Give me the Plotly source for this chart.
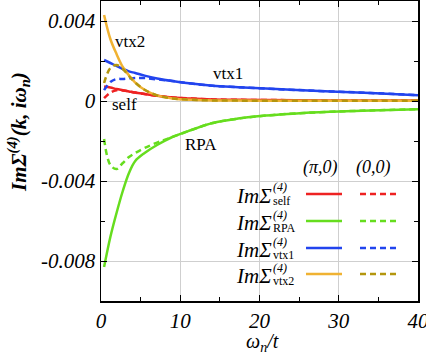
import plotly.graph_objects as go

# Matsubara frequencies (omega_n / t)
omega = [0.39, 1.18, 1.96, 2.75, 3.53, 4.32, 5.5, 7.07, 9.0, 11.4, 14.1, 17.3, 20.8, 24.7, 29.0, 34.0, 40.0]

# (pi,0) solid, (0,0) dashed
self_pi = [0.00072, 0.00067, 0.0006, 0.00054, 0.00048, 0.00042, 0.00035, 0.00026, 0.00018, 0.00012,
           0.00008, 0.00006, 0.00005, 0.00004, 0.00003, 0.00003, 0.00002]
self_00 = [0.00014, 0.00042, 0.00054, 0.00053, 0.00048, 0.00042, 0.00035, 0.00026, 0.00018, 0.00012,
           0.00008, 0.00006, 0.00005, 0.00004, 0.00003, 0.00003, 0.00002]
rpa_pi = [-0.0083, -0.0068, -0.0056, -0.0045, -0.0036, -0.0030, -0.0026, -0.0022, -0.0018, -0.00145,
          -0.0011, -0.00088, -0.00073, -0.00062, -0.00054, -0.00047, -0.00041]
rpa_00 = [-0.0019, -0.0032, -0.0034, -0.0031, -0.0028, -0.0026, -0.00235, -0.00208, -0.0018, -0.00145,
          -0.0011, -0.00088, -0.00073, -0.00062, -0.00054, -0.00047, -0.00041]
vtx1_pi = [0.00205, 0.0019, 0.00175, 0.0016, 0.00148, 0.0014, 0.00127, 0.00113, 0.001, 0.00087,
           0.00076, 0.00069, 0.00062, 0.00055, 0.00048, 0.0004, 0.00029]
vtx1_00 = [0.00054, 0.00095, 0.0011, 0.0011, 0.00113, 0.00115, 0.00115, 0.00108, 0.001, 0.00087,
           0.00076, 0.00069, 0.00062, 0.00055, 0.00048, 0.0004, 0.00029]
vtx2_pi = [0.0043, 0.0031, 0.00235, 0.0017, 0.00128, 0.00092, 0.00056, 0.00028, 0.00013, 0.00006,
           0.00003, 0.00002, 0.00001, 0.00001, 0.00001, 0.00001, 0.00001]
vtx2_00 = [0.0009, 0.00165, 0.0018, 0.0016, 0.00125, 0.00092, 0.00056, 0.00028, 0.00013, 0.00006,
           0.00003, 0.00002, 0.00001, 0.00001, 0.00001, 0.00001, 0.00001]

x_ticks = [0, 10, 20, 30, 40]
y_ticks = [-0.008, -0.004, 0, 0.004]
y_tick_text = ["-0.008", "-0.004", "0", "0.004"]

RED, GREEN, BLUE, GOLD, OLIVE = "#ee2222", "#66dd1e", "#2244ee", "#f0b232", "#b4960e"
SERIF = "Liberation Serif"

series = [
    ("self", self_pi, self_00, RED, RED),
    ("RPA", rpa_pi, rpa_00, GREEN, GREEN),
    ("vtx1", vtx1_pi, vtx1_00, BLUE, BLUE),
    ("vtx2", vtx2_pi, vtx2_00, GOLD, OLIVE),
]

fig = go.Figure()
for name, ypi, y00, c1, c2 in series:
    fig.add_trace(go.Scatter(x=omega, y=ypi, mode="lines", line=dict(color=c1, width=2.5, shape="spline"),
                             showlegend=False, hoverinfo="skip"))
    fig.add_trace(go.Scatter(x=omega, y=y00, mode="lines",
                             line=dict(color=c2, width=2.5, dash="6px,4px", shape="spline"),
                             showlegend=False, hoverinfo="skip"))

# plot area in pixels: x 101..418, y 1..301
L, R, T, B = 101, 418, 1, 301


def px(x):
    return (x - L) / (R - L)


def py(y):
    return (B - y) / (B - T)


def note(x, y, text, size, italic=False, xanchor="center", angle=0, paper=True):
    font = dict(family=SERIF, size=size, color="black")
    if italic:
        font["style"] = "italic"
    d = dict(x=x, y=y, text=text, showarrow=False, xanchor=xanchor, yanchor="middle", font=font,
             textangle=angle, borderpad=0)
    if paper:
        d.update(xref="paper", yref="paper")
    return d


shapes = [dict(type="rect", xref="paper", yref="paper", x0=px(228), x1=1, y0=0, y1=py(152),
               fillcolor="white", line=dict(width=0), layer="between")]
annotations = []

for text, x, y in [("vtx2", 3.6, 0.0030), ("vtx1", 16.0, 0.0014), ("self", 3.0, -0.00017), ("RPA", 12.6, -0.00215)]:
    annotations.append(note(x, y, text, 17, paper=False))

for label, xc in [("(π,0)", 320), ("(0,0)", 373)]:
    annotations.append(note(px(xc), py(167), label, 18, italic=True))

rows = [194, 221, 248, 274]
for (name, _, _, c1, c2), ry in zip(series, rows):
    shapes.append(dict(type="line", xref="paper", yref="paper", x0=px(306), x1=px(342), y0=py(ry), y1=py(ry),
                       line=dict(color=c1, width=2.5)))
    shapes.append(dict(type="line", xref="paper", yref="paper", x0=px(360), x1=px(396), y0=py(ry), y1=py(ry),
                       line=dict(color=c2, width=2.5, dash="6px,4px")))
    annotations.append(note(px(273), py(ry + 2), "ImΣ", 21, italic=True, xanchor="right"))
    annotations.append(note(px(272), py(ry - 6.5), "(4)", 12, italic=True, xanchor="left"))
    annotations.append(note(px(272), py(ry + 7), name, 12, xanchor="left"))

# axis titles
annotations.append(note(px(18), py(132), "<b>ImΣ<sup>(4)</sup>(k, iω<sub>n</sub>)</b>", 21, italic=True, angle=-90))
annotations.append(note(px(262), py(342), "ω<sub>n</sub>/t", 20, italic=True))

axis_common = dict(showline=True, linecolor="black", linewidth=1.5, mirror="ticks", ticks="inside",
                   ticklen=6, tickcolor="black", tickwidth=1, showgrid=True, gridcolor="#cfcfcf", gridwidth=1,
                   zeroline=False, automargin=False, ticklabeloverflow="allow",
                   tickfont=dict(family=SERIF, size=21, color="black", style="italic"),
                   minor=dict(ticks="inside", ticklen=4, tickcolor="black", showgrid=False))

fig.update_xaxes(range=[0, 40], tickvals=x_ticks, minor_dtick=5, **axis_common)
fig.update_yaxes(range=[-0.010, 0.005], tickvals=y_ticks, ticktext=y_tick_text, minor_dtick=0.002, **axis_common)

fig.update_layout(width=426, height=354, margin=dict(l=L, r=426 - R, t=T, b=354 - B),
                  plot_bgcolor="white", paper_bgcolor="white", shapes=shapes, annotations=annotations)

fig.write_html("out.html", config={"displayModeBar": False, "staticPlot": True},
               post_script="document.body.style.margin='0px';")
